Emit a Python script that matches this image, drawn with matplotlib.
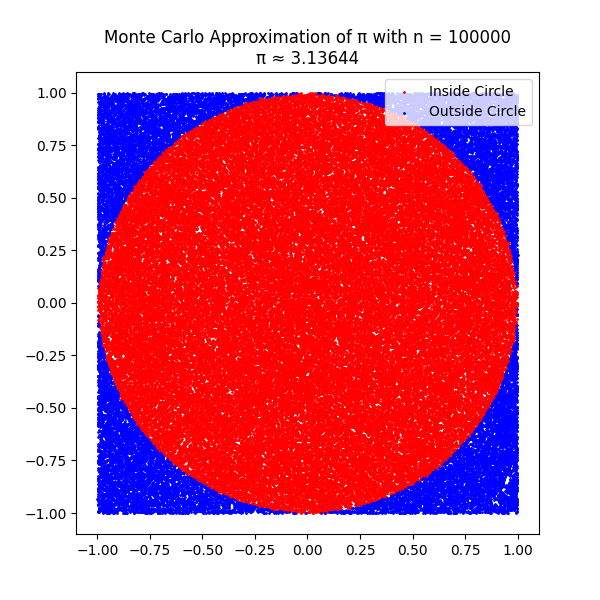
import numpy as np
import matplotlib
matplotlib.use("Agg")
import matplotlib.pyplot as plt

# Summary values
n_points = 100000
pi_estimate_label = "3.13644"
series_labels = ["Inside Circle", "Outside Circle"]
series_colors = ["red", "blue"]

# Monte Carlo sample (the reference chart is itself a random sample)
rng = np.random.default_rng(0)
x = rng.uniform(-1, 1, n_points)
y = rng.uniform(-1, 1, n_points)
inside = x**2 + y**2 <= 1

fig, ax = plt.subplots(figsize=(6, 6), dpi=100)
ax.scatter(x[inside], y[inside], color=series_colors[0], s=1, label=series_labels[0])
ax.scatter(x[~inside], y[~inside], color=series_colors[1], s=1, label=series_labels[1])
ax.set_aspect("equal")
ax.set_title(f"Monte Carlo Approximation of π with n = {n_points}\nπ ≈ {pi_estimate_label}")
ax.legend(loc="upper right")
fig.savefig("out.png", dpi=100)
